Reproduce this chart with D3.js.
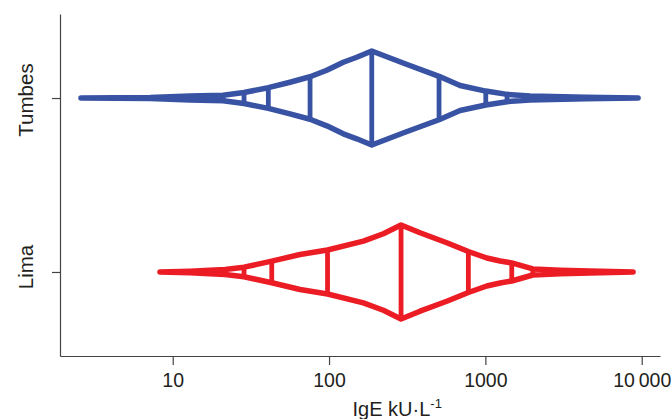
<!DOCTYPE html>
<html>
<head>
<meta charset="utf-8">
<script src="https://cdn.jsdelivr.net/npm/d3@7"></script>
<style>
  body { margin: 0; background: #fff; }
  text { font-family: "Liberation Sans", Arial, sans-serif; fill: #231f20; }
</style>
</head>
<body>
<div id="chart"></div>
<script>
var cities = ["Tumbes", "Lima"];
var cityColors = ["#3953a4", "#ec1c24"];

// Outline of each distribution: IgE value (kU/L) and its cumulative percent
var tumbesIgE = [2.59, 7.16, 12.9, 20.98, 28.59, 40.89, 56.29, 75.6, 96.7, 123.4, 150.4, 187.6,
                 306.4, 505.5, 688.9, 1006, 1376, 1932, 4410, 9484];
var tumbesPct = [0, 0.6, 2.1, 3.0, 5.9, 11.0, 16.8, 22.6, 29.6, 38.1, 43.4, 50,
                 63.6, 76.9, 86.7, 92.6, 96.1, 97.9, 99.15, 100];
// letter values (median, fourths, eighths, ...)
var tumbesLetters = [20.98, 28.59, 40.89, 75.6, 187.6, 505.5, 1006, 1376, 1932];

var limaIgE = [8.29, 12.9, 16.1, 21.61, 28.59, 43.0, 65.25, 97.8, 165.8, 222.5, 288.8,
               382.1, 566.4, 778.5, 1021, 1242, 1475, 2011, 3006, 4677, 8810];
var limaPct = [0, 0.85, 1.6, 2.7, 5.1, 11.5, 18.6, 23.4, 32.8, 40.7, 50,
               58.3, 68.9, 78.2, 85.1, 88.3, 90.4, 96.8, 98.1, 98.9, 100];
var limaLetters = [16.1, 28.59, 43.0, 97.8, 288.8, 778.5, 1475, 2011];

var xTicks = [10, 100, 1000, 10000];
var xTickLabels = ["10", "100", "1000", "10\u2009000"];

var allIgE = [tumbesIgE, limaIgE];
var allPct = [tumbesPct, limaPct];
var allLetters = [tumbesLetters, limaLetters];

var width = 672, height = 419;
var margin = {top: 14, right: 12, bottom: 63, left: 60};

var svg = d3.select("#chart")
            .append("svg")
              .attr("width", width)
              .attr("height", height);

// log scale on x
var x = d3.scaleLog()
          .domain([1.901, 13095])
          .range([margin.left, width - margin.right]);

var y = d3.scalePoint()
          .domain(cities)
          .range([margin.top, height - margin.bottom])
          .padding(0.483);

// half-height of the shape from the folded cumulative percent
var depth = d3.scaleLinear()
              .domain([0, 50])
              .range([0, 47]);

function fold(p) { return Math.min(p, 100 - p); }

function depthAt(ige, pct, v) {
  var i = d3.bisectRight(ige, v) - 1;
  if (i < 0) return 0;
  if (i >= ige.length - 1) return fold(pct[ige.length - 1]);
  var t = (Math.log(v) - Math.log(ige[i])) / (Math.log(ige[i + 1]) - Math.log(ige[i]));
  return fold(pct[i]) + t * (fold(pct[i + 1]) - fold(pct[i]));
}

// axes
var xAxis = svg.append("g")
   .attr("transform", "translate(0," + (height - margin.bottom) + ")")
   .call(d3.axisBottom(x).tickValues(xTicks).tickSize(9).tickSizeOuter(0)
           .tickFormat(function(d, i) { return xTickLabels[i]; }));
xAxis.selectAll("text")
   .attr("y", 31)
   .attr("dy", 0)
   .style("font-size", "19.5px");

var yAxis = svg.append("g")
   .attr("transform", "translate(" + margin.left + ",0)")
   .call(d3.axisLeft(y).tickSize(8).tickSizeOuter(0).tickFormat(""));

svg.selectAll(".domain, .tick line")
   .attr("stroke", "#444")
   .attr("stroke-width", 1.2);

// category labels, rotated
var labelNudge = [2, -5];
svg.selectAll(".catlabel")
   .data(cities)
   .enter()
   .append("text")
     .attr("class", "catlabel")
     .attr("transform", function(d, i) {
       return "translate(33.3," + (y(d) + labelNudge[i]) + ") rotate(-90)";
     })
     .style("text-anchor", "middle")
     .style("font-size", "20.5px")
     .text(function(d) { return d; });

// x axis title
var title = svg.append("text")
   .attr("x", 352.5)
   .attr("y", 415.5)
   .style("font-size", "20px");
title.append("tspan").text("IgE kU\u00b7L");
title.append("tspan")
   .attr("dy", -7.5)
   .style("font-size", "13px")
   .text("-1");

// shapes
cities.forEach(function(city, c) {
  var ige = allIgE[c];
  var pct = allPct[c];
  var cy = y(city);
  var g = svg.append("g");

  var top = ige.map(function(v, i) { return [x(v), cy - depth(fold(pct[i]))]; });
  var bottom = ige.map(function(v, i) { return [x(v), cy + depth(fold(pct[i]))]; }).reverse();

  g.append("path")
   .attr("d", d3.line()(top.concat(bottom)) + "Z")
   .attr("fill", "none")
   .attr("stroke", cityColors[c])
   .attr("stroke-width", 5.5)
   .attr("stroke-linejoin", "round")
   .attr("stroke-linecap", "round");

  g.selectAll("line")
   .data(allLetters[c])
   .enter()
   .append("line")
     .attr("x1", function(d) { return x(d); })
     .attr("x2", function(d) { return x(d); })
     .attr("y1", function(d) { return cy - depth(depthAt(ige, pct, d)); })
     .attr("y2", function(d) { return cy + depth(depthAt(ige, pct, d)); })
     .attr("stroke", cityColors[c])
     .attr("stroke-width", 4.8);
});
</script>
</body>
</html>
